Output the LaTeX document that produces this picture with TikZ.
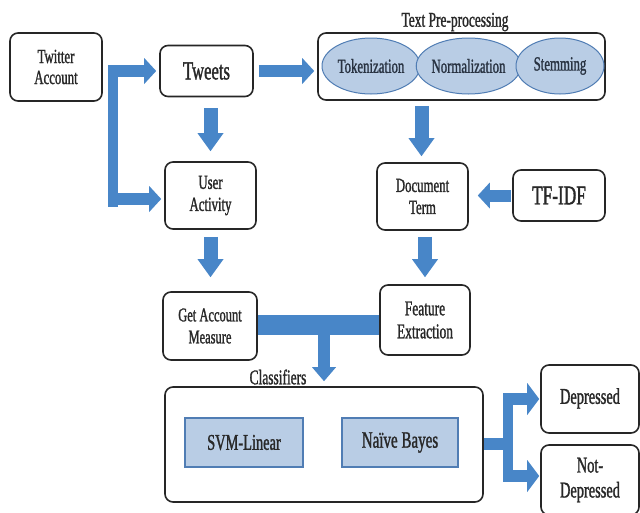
\documentclass[tikz,border=0pt]{standalone}
\usepackage{fontspec}
\setmainfont{Liberation Serif}[FakeStretch=0.64,FakeBold=1.2]
\usetikzlibrary{arrows.meta,shapes.geometric,calc}
\definecolor{ab}{RGB}{72,134,200}
\definecolor{lb}{RGB}{185,205,229}
\definecolor{lbd}{RGB}{80,125,180}
\definecolor{txt}{RGB}{40,40,40}
\definecolor{ellt}{RGB}{40,50,65}
\begin{document}
\begin{tikzpicture}[x=1pt,y=-1pt,
  box/.style={draw=black!85, line width=1.6pt, rounded corners=8pt, fill=white, align=center, text=txt, inner sep=0pt},
  ell/.style={ellipse, draw=lbd, line width=1pt, fill=lb, inner sep=0pt, text=ellt, font=\fontsize{20}{22}\selectfont},
  rectb/.style={draw=lbd, line width=1.2pt, fill=lb, inner sep=0pt, text=txt},
  varr/.style={draw=ab, line width=14pt, -{Triangle[width=26pt,length=18pt,line width=0pt]}},
  harr/.style={draw=ab, line width=12pt, -{Triangle[width=26pt,length=12pt,line width=0pt]}},
  oarr/.style={draw=ab, line width=12pt, -{Triangle[width=32pt,length=12pt,line width=0pt]}},
  bar/.style={draw=ab, line width=#1}]
\useasboundingbox (0,0) rectangle (640,512);

% nodes
\node[box, minimum width=92pt, minimum height=68pt, font=\fontsize{20}{21}\selectfont] (tw) at (56,67) {Twitter\\Account};
\node[box, minimum width=93pt, minimum height=51pt, font=\fontsize{26}{28}\selectfont] (tweets) at (206.5,71) {Tweets};
\node[box, minimum width=287pt, minimum height=67pt] (pre) at (461.5,66.5) {};
\node[text=txt, font=\fontsize{21}{22}\selectfont] (prel) at (455,22) {Text Pre-processing};
\node[ell, minimum width=98pt, minimum height=56pt] (tok) at (371,66) {Tokenization};
\node[ell, minimum width=97pt, minimum height=56pt] (nor) at (468.5,66) {Normalization};
\node[ell, minimum width=88pt, minimum height=56pt] (ste) at (560,66) {Stemming};

\node[box, minimum width=91pt, minimum height=67pt, font=\fontsize{20}{22}\selectfont] (ua) at (210.5,195.5) {User\\Activity};
\node[box, minimum width=91pt, minimum height=67pt, font=\fontsize{20}{22}\selectfont] (doc) at (422.5,196.5) {Document\\Term};
\node[box, minimum width=92pt, minimum height=51pt, font=\fontsize{27}{29}\selectfont] (tfidf) at (559,195.5) {TF-IDF};

\node[box, minimum width=94pt, minimum height=68pt, font=\fontsize{19.5}{22}\selectfont] (gam) at (210,326) {Get Account\\Measure};
\node[box, minimum width=90pt, minimum height=70pt, font=\fontsize{21}{23}\selectfont] (fe) at (425,320) {Feature\\Extraction};

\node[text=txt, font=\fontsize{21}{22}\selectfont] (clsl) at (278,377) {Classifiers};
\node[box, minimum width=318pt, minimum height=115pt] (cls) at (324,444.5) {};
\node[rectb, minimum width=118pt, minimum height=49pt, font=\fontsize{22.5}{24}\selectfont] (svm) at (244,442.5) {SVM-Linear};
\node[rectb, minimum width=116pt, minimum height=49pt, font=\fontsize{23.5}{25}\selectfont] (nb) at (400,442.5) {Naïve Bayes};

\node[box, minimum width=98pt, minimum height=68pt, font=\fontsize{22.5}{24}\selectfont] (dep) at (590,399) {\raisebox{6pt}{Depressed}};
\node[box, minimum width=98pt, minimum height=70pt, font=\fontsize{22.5}{25}\selectfont] (ndep) at (590,480) {Not-\\Depressed};

% connectors
\coordinate (s1) at (108,71);
\coordinate (s2) at (108,199);
\coordinate (b1) at (113,65);
\coordinate (b2) at (113,207);
\draw[bar=10pt] (b1) -- (b2);
\draw[harr, shorten >=3pt] (s1) -- (tweets.west);
\draw[harr, shorten >=3pt] (s2) -- (s2 -| ua.west);
\draw[harr, shorten <=5pt, shorten >=3pt] (tweets.east) -- (tweets.east -| pre.west);
\draw[varr, shorten <=11pt, shorten >=10pt] (ua.north |- tweets.south) -- (ua.north);
\draw[varr, shorten <=5pt, shorten >=6pt] ([xshift=-1pt]doc.north |- pre.south) -- ([xshift=-1pt]doc.north);
\draw[harr, shorten <=1pt, shorten >=9pt] (tfidf.west) -- (tfidf.west -| doc.east);
\draw[varr, shorten <=7pt, shorten >=14pt] (ua.south) -- (ua.south |- gam.north);
\draw[varr, shorten <=6pt, shorten >=7pt] (fe.north |- doc.south) -- (fe.north);
\coordinate (g1) at (gam.east |- 0,325);
\draw[bar=20pt] (g1) -- (g1 -| fe.west);
\coordinate (j) at (324,330);
\draw[draw=ab, line width=12pt, -{Triangle[width=24pt,length=14pt,line width=0pt]}, shorten >=5pt] (j) -- (j |- cls.north);
\coordinate (o1) at (508,444);
\draw[bar=12pt] (cls.east |- o1) -- (o1);
\coordinate (o2) at (508,393);
\coordinate (o3) at (508,482);
\draw[bar=10pt] (o2) -- (o3);
\coordinate (a1) at (503,399);
\coordinate (a2) at (503,476);
\draw[oarr, shorten >=1pt] (a1) -- (a1 -| dep.west);
\draw[oarr, shorten >=1pt] (a2) -- (a2 -| ndep.west);
\end{tikzpicture}
\end{document}
